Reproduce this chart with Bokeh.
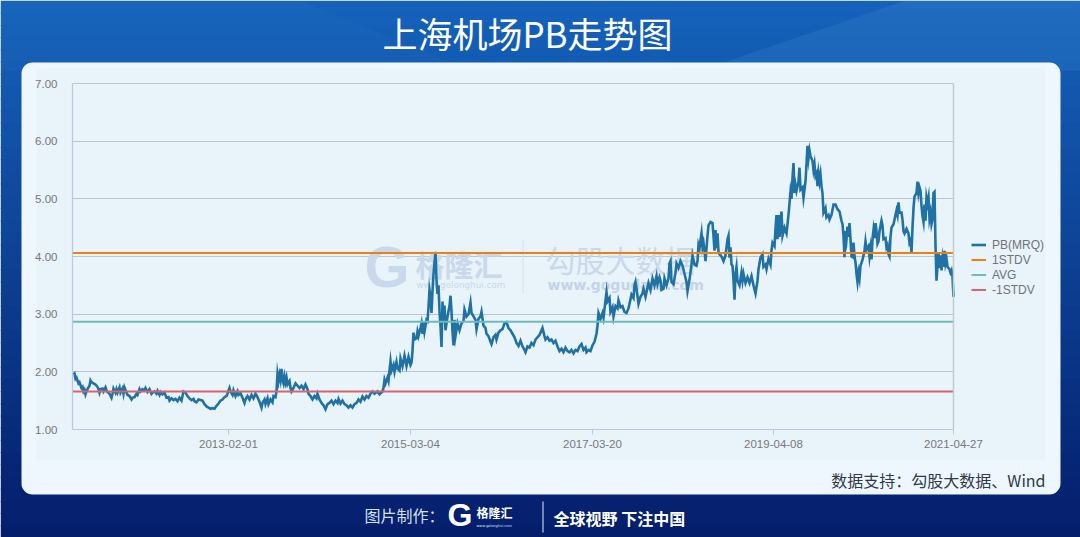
from bokeh.embed import file_html
from bokeh.resources import INLINE
from bokeh.plotting import figure
from bokeh.models import (BoxAnnotation, Label, Legend, LegendItem, PolyAnnotation,
                          Range1d, FixedTicker, NumeralTickFormatter)

series_name = "PB(MRQ)"
pb_2011_2013 = [(1,1.95),(2,1.97),(3,1.88),(4,1.90),(6,1.80),(7,1.82),(9,1.72),(10,1.74),(11,1.66),(12,1.69),(13,1.61),(14,1.66),(15,1.70),(17,1.76),(18,1.85),(19,1.82),(21,1.80),(23,1.78),(25,1.74),(26,1.70),(27,1.64),(28,1.70),(30,1.71),(31,1.66),(33,1.73),(34,1.68),(35,1.65),(37,1.62),(39,1.55),(40,1.62),(41,1.71),(43,1.64),(44,1.70),(45,1.64),(47,1.73),(48,1.64),(50,1.71),(51,1.62),(52,1.73),(54,1.64),(55,1.60),(57,1.58),(59,1.52),(60,1.55),(62,1.56),(64,1.62),(65,1.60),(67,1.70),(68,1.66),(70,1.70),(72,1.68),(73,1.72),(75,1.65),(77,1.70),(79,1.62),(80,1.64),(82,1.66),(84,1.62),(85,1.67),(87,1.60),(88,1.65),(90,1.61),(92,1.64),(94,1.55),(96,1.56),(97,1.50),(99,1.54),(101,1.51),(103,1.53),(105,1.49),(107,1.55),(109,1.50),(110,1.58),(111,1.66),(113,1.64),(115,1.58),(117,1.54),(119,1.51),(121,1.53),(122,1.49),(124,1.47),(126,1.52),(128,1.51),(130,1.50),(132,1.44),(134,1.40),(136,1.38),(138,1.36),(140,1.37),(142,1.36),(144,1.41),(146,1.45),(148,1.50),(150,1.52),(152,1.56),(154,1.58),(155,1.62),(157,1.72),(158,1.66),(160,1.60),(161,1.68),(163,1.58),(165,1.66),(166,1.60),(168,1.63)]
pb_2013_2015 = [(170,1.55),(172,1.46),(173,1.52),(175,1.58),(177,1.52),(179,1.60),(181,1.54),(183,1.62),(185,1.56),(187,1.48),(189,1.38),(190,1.46),(192,1.52),(193,1.44),(195,1.54),(196,1.44),(198,1.52),(200,1.47),(201,1.58),(203,1.56),(204,1.66),(205,1.96),(206,1.84),(207,1.95),(208,1.86),(209,2.05),(210,1.86),(211,1.80),(212,1.92),(213,1.82),(214,1.90),(215,1.78),(217,1.84),(218,1.72),(219,1.66),(221,1.72),(223,1.80),(225,1.76),(227,1.72),(229,1.76),(231,1.70),(233,1.78),(235,1.70),(236,1.62),(238,1.58),(240,1.52),(242,1.58),(244,1.54),(245,1.62),(247,1.52),(249,1.46),(251,1.42),(253,1.35),(255,1.44),(257,1.46),(259,1.50),(261,1.44),(263,1.50),(265,1.46),(266,1.53),(268,1.45),(270,1.50),(272,1.44),(274,1.42),(276,1.38),(278,1.42),(280,1.38),(282,1.44),(284,1.46),(286,1.52),(288,1.48),(290,1.57),(292,1.52),(294,1.58),(296,1.55),(298,1.62),(300,1.66),(302,1.62),(305,1.66),(307,1.61),(310,1.66),(311,1.72),(312,1.86),(313,1.80),(315,1.90),(316,1.84),(317,2.02),(318,2.18),(319,2.02),(321,2.12),(322,2.00),(324,2.17),(325,2.06),(327,2.02),(328,2.23),(330,2.10),(332,2.28),(334,2.10),(336,2.26),(338,2.12),(339,2.16)]
pb_2015_2017 = [(340,2.36),(341,2.68),(342,2.56),(344,2.58),(345,2.70),(346,2.62),(348,2.76),(349,2.84),(350,2.66),(351,2.86),(352,2.70),(354,2.90),(355,2.88),(356,3.12),(357,3.42),(358,3.30),(359,3.02),(360,3.40),(361,3.70),(363,4.08),(364,3.60),(365,3.35),(366,3.50),(367,3.05),(368,2.80),(369,2.43),(370,3.22),(371,2.85),(372,3.15),(373,2.72),(375,2.96),(377,3.14),(378,3.32),(379,3.05),(380,2.70),(381,2.46),(382,2.90),(383,2.62),(385,2.84),(387,2.72),(389,2.84),(391,2.88),(392,3.08),(394,2.96),(396,3.00),(398,3.20),(399,3.02),(401,2.96),(403,2.90),(404,2.74),(406,2.92),(408,2.96),(409,3.04),(411,2.80),(413,2.76),(414,2.66),(416,2.62),(418,2.52),(419,2.48),(421,2.60),(423,2.64),(424,2.56),(426,2.68),(428,2.72),(430,2.74),(432,2.84),(434,2.86),(436,2.76),(438,2.72),(440,2.66),(442,2.60),(444,2.50),(446,2.45),(448,2.54)]
pb_2017_2018 = [(450,2.44),(452,2.38),(453,2.34),(455,2.44),(457,2.42),(459,2.50),(461,2.46),(463,2.56),(465,2.60),(467,2.64),(469,2.72),(470,2.76),(472,2.62),(473,2.56),(475,2.60),(477,2.54),(479,2.56),(481,2.50),(483,2.54),(485,2.44),(487,2.36),(489,2.40),(491,2.34),(493,2.42),(495,2.36),(497,2.34),(499,2.38),(501,2.32),(503,2.38),(505,2.36),(507,2.44),(509,2.48),(511,2.38),(513,2.42),(514,2.34),(516,2.38),(518,2.36),(520,2.46),(522,2.52),(524,2.66),(525,2.80),(526,3.02),(528,2.92),(530,3.02),(531,2.94),(533,3.24),(534,3.38),(535,3.22),(537,3.28),(538,3.04),(540,3.12),(541,2.96),(543,3.14),(545,3.10),(546,3.24),(548,3.12),(550,3.14),(552,3.04),(554,3.02),(556,3.10),(558,3.26),(559,3.34),(561,3.28),(562,3.50),(563,3.56),(565,3.32),(566,3.18),(568,3.30),(570,3.36),(571,3.44),(573,3.30),(575,3.46),(576,3.54),(578,3.42),(580,3.62),(582,3.50),(584,3.66),(585,3.52),(587,3.64)]
pb_2018_2019 = [(588,3.58),(589,3.42),(591,3.44),(592,3.62),(594,3.50),(596,3.62),(597,3.88),(598,3.92),(599,3.56),(601,3.52),(603,3.72),(604,3.88),(606,3.80),(608,3.92),(610,3.84),(612,3.70),(614,3.56),(615,3.40),(617,3.60),(619,3.86),(620,4.02),(622,3.86),(624,3.84),(625,3.92),(626,4.20),(627,4.14),(628,4.28),(629,4.40),(630,4.16),(631,4.24),(632,4.10),(633,3.92),(635,4.36),(636,4.54),(638,4.60),(640,4.58),(641,4.36),(642,4.10),(643,4.46),(644,4.14),(645,4.40),(646,4.08),(647,4.04),(649,4.00),(651,3.92),(653,4.02),(655,4.30),(656,4.36),(657,3.98),(658,4.16),(659,3.86),(660,3.84),(661,3.60),(662,3.25),(663,3.70),(664,3.82),(665,3.58),(667,3.50),(669,3.72),(670,3.58),(671,3.70),(673,3.54),(675,3.64),(677,3.54),(679,3.66),(681,3.50),(683,3.36),(685,3.58),(686,3.78),(688,3.98),(690,4.04),(691,3.82),(693,3.86),(694,3.78),(696,3.96),(698,3.86),(699,4.10),(700,4.24),(702,4.18),(703,4.48),(704,4.72),(705,4.30),(706,4.72),(707,4.34),(708,4.62),(709,4.78),(710,4.36),(712,4.50),(714,4.40),(716,4.72),(717,4.92),(718,5.12),(719,5.00),(720,5.36),(721,5.62),(722,5.10),(723,5.24),(724,5.14),(726,5.30),(727,5.54),(728,5.16),(730,5.20),(731,5.02),(733,5.30),(734,5.60),(735,5.92),(736,5.70),(737,5.84),(738,5.74)]
pb_2019_2021 = [(740,5.66),(741,5.50),(742,5.60),(743,5.40),(744,5.44),(745,5.22),(746,5.44),(747,5.30),(748,5.42),(749,5.22),(750,5.10),(751,4.76),(753,4.84),(754,4.68),(756,4.72),(757,4.64),(759,4.72),(761,4.90),(763,4.90),(765,4.82),(767,4.78),(769,4.62),(770,4.56),(771,4.36),(772,3.99),(773,4.44),(774,4.30),(775,4.52),(776,4.34),(777,4.58),(778,4.30),(779,4.00),(780,3.99),(781,4.24),(782,4.00),(783,3.90),(784,3.70),(785,3.56),(786,3.72),(787,3.62),(788,3.84),(790,3.94),(792,4.10),(793,4.26),(794,4.12),(796,4.18),(797,4.00),(798,4.14),(799,3.95),(800,4.30),(801,4.46),(802,4.32),(803,4.58),(804,4.44),(805,4.22),(806,4.26),(807,4.44),(809,4.62),(810,4.54),(811,4.30),(813,4.32),(814,4.16),(815,4.20),(816,4.04),(817,4.00),(818,4.34),(819,4.50),(821,4.56),(823,4.72),(824,4.80),(825,4.72),(826,4.94),(827,4.76),(829,4.76),(830,4.64),(831,4.44),(832,4.40),(834,4.48),(836,4.40),(837,4.24),(838,4.28),(839,4.08),(840,4.50),(841,4.84),(842,5.04),(844,5.10),(845,5.30),(846,5.10),(847,5.20),(848,5.14),(849,4.88),(850,4.70),(851,4.60),(852,4.90),(853,4.62),(854,5.02),(855,4.92),(856,5.02),(857,4.66),(858,4.76),(859,4.56),(860,4.64),(861,5.10),(862,5.12),(863,4.20),(864,3.58),(865,3.84),(866,4.06),(867,3.80),(868,4.02),(869,3.76),(870,3.96),(871,3.82),(872,4.10),(873,3.88),(874,3.96),(875,3.82),(877,3.78),(878,3.72),(879,3.76),(880,3.66),(881,3.30)]
upper_name, upper_value = "1STDV", 4.06
avg_name, avg_value = "AVG", 2.87
lower_name, lower_value = "-1STDV", 1.66
tick_positions = [156, 338, 520, 701, 881]
tick_labels = ["2013-02-01", "2015-03-04", "2017-03-20", "2019-04-08", "2021-04-27"]
y_ticks = [1, 2, 3, 4, 5, 6, 7]

title_text = "上海机场PB走势图"
source_text = "数据支持：勾股大数据、Wind"
made_text = "图片制作："
slogan_text = "全球视野 下注中国"
brand_text = "格隆汇"
brand_url = "www.gelonghui.com"
wm_text = "勾股大数据"
wm_url = "www.gogudata.com"

pb_points = pb_2011_2013 + pb_2013_2015 + pb_2015_2017 + pb_2017_2018 + pb_2018_2019 + pb_2019_2021
sample_idx = [a for a, _ in pb_points]
pb_values = [b for _, b in pb_points]

W, H = 1080, 537
PX_PER_UNIT = 346 / 6
X0, Y1PX = 72, 429  # picture pixels of the origin
x_end = 881

p = figure(width=W, height=H, output_backend="svg", toolbar_location=None,
           x_range=Range1d(-X0, W - X0),
           y_range=Range1d(1 - (H - Y1PX) / PX_PER_UNIT, 1 + Y1PX / PX_PER_UNIT),
           min_border=0, background_fill_color=None, border_fill_color=None,
           outline_line_color=None)


def box(x0, y0, x1, y1, color, alpha=1.0, radius=0, level="image"):
    p.add_layout(BoxAnnotation(left=x0, right=x1, top=y0, bottom=y1,
                               left_units="canvas", right_units="canvas", top_units="canvas", bottom_units="canvas",
                               fill_color=color, fill_alpha=alpha, line_color=None, border_radius=radius,
                               level=level, editable=False))


def poly(xs, ys, color, alpha):
    p.add_layout(PolyAnnotation(xs=xs, ys=ys, xs_units="canvas", ys_units="canvas",
                                fill_color=color, fill_alpha=alpha, line_color=None, level="image"))


def text(x, y, s, size, color, font="Noto Sans CJK SC", style="normal", align="left", alpha=1.0, level="annotation"):
    p.add_layout(Label(x=x, y=y, x_units="canvas", y_units="canvas", text=s,
                       text_font=font, text_font_size=f"{size}px", text_color=color, text_font_style=style,
                       text_align=align, text_baseline="middle", text_alpha=alpha, level=level))


# page background
top, bottom = (0x15, 0x62, 0xba), (0x04, 0x1e, 0x6c)
n = 44
for i in range(n):
    t = i / (n - 1)
    c = tuple(round(a + (b - a) * t) for a, b in zip(top, bottom))
    box(0, i * (H / n), W, (i + 1) * (H / n) + 1, "#%02x%02x%02x" % c)
poly([700, 905, 1080, 1080], [70, 0, 0, 70], "#5aa0e0", 0.16)
poly([0, 300, 470, 0], [0, 0, 70, 70], "#5aa0e0", 0.06)

# card + inner panel
box(21, 62, 1060, 494, "#eef6fe", radius=11)
box(36, 68, 1045, 460, "#e8f3fa")

# watermark
wm = "#c9d8ea"
box(522, 239, 523, 293, "#d3e0ee", level="underlay")
text(364, 266, "G", 58, wm, style="bold", level="underlay", font="Liberation Sans")
text(415, 263, brand_text, 29, wm, style="bold", level="underlay")
text(416, 284, brand_url, 8.8, wm, font="DejaVu Sans", level="underlay")
text(545, 258, wm_text, 30, wm, level="underlay")
text(547, 284, wm_url, 14, "#c4d3e8", font="DejaVu Sans", style="bold", level="underlay")

# series
pb = p.line(sample_idx, pb_values, line_color="#1f72a3", line_width=2.6, line_join="miter")
hi = p.line([0, x_end], [upper_value] * 2, line_color="#ee7f11", line_width=2)
av = p.line([0, x_end], [avg_value] * 2, line_color="#6cbcba", line_width=2)
lo = p.line([0, x_end], [lower_value] * 2, line_color="#d9646c", line_width=2)
p.line([x_end, x_end], [1, 7], line_color="#c3cbd2", line_width=1.5, level="guide")

# axes
p.xgrid.visible = False
p.ygrid.ticker = FixedTicker(ticks=y_ticks)
p.ygrid.cross_bounds = (0, x_end)
p.ygrid.grid_line_color = "#bfc5ca"
p.ygrid.grid_line_width = 1
p.yaxis.ticker = FixedTicker(ticks=y_ticks)
p.yaxis.formatter = NumeralTickFormatter(format="0.00")
p.xaxis.ticker = FixedTicker(ticks=tick_positions)
p.xaxis.major_label_overrides = dict(zip(tick_positions, tick_labels))
p.xaxis.fixed_location = 1
p.yaxis.fixed_location = 0
p.xaxis.bounds = (0, x_end)
p.yaxis.bounds = (1, 7)
for ax in (p.xaxis[0], p.yaxis[0]):
    ax.axis_line_color = "#b9c9db"
    ax.axis_line_width = 1.2
    ax.major_label_text_color = "#77787a"
    ax.major_label_text_font = "Liberation Sans"
    ax.major_label_text_font_size = "11.5px"
    ax.minor_tick_line_color = None
    ax.major_tick_in = 0
p.yaxis.major_tick_line_color = None
p.yaxis.major_label_standoff = 9
p.xaxis.major_tick_out = 5
p.xaxis.major_tick_line_color = "#b9c9db"
p.xaxis.major_label_standoff = 5

legend = Legend(items=[LegendItem(label=series_name, renderers=[pb]),
                       LegendItem(label=upper_name, renderers=[hi]),
                       LegendItem(label=avg_name, renderers=[av]),
                       LegendItem(label=lower_name, renderers=[lo])],
                location=(971, 240), background_fill_alpha=0, border_line_color=None,
                padding=0, margin=0, spacing=0, glyph_width=15, glyph_height=15, label_height=15, label_standoff=6,
                label_text_font="Liberation Sans", label_text_font_size="12px", label_text_color="#6f7378")
p.add_layout(legend, "center")

# texts
text(527, 32, title_text, 35, "#ffffff", align="center")
text(1045, 479, source_text, 16, "#2f3a4a", align="right")
text(364, 514, made_text, 16, "#d5e0f0")
text(447, 514, "G", 32, "#ffffff", font="Liberation Sans", style="bold")
text(476, 512, brand_text, 12, "#ffffff", style="bold")
text(476, 525, brand_url, 3.5, "#d5e0f0", font="DejaVu Sans")
box(542, 501, 543, 532, "#e8eef8", level="annotation")
text(553, 517, slogan_text, 16, "#ffffff", style="bold")

open("out.html", "w").write(file_html(p, INLINE))
